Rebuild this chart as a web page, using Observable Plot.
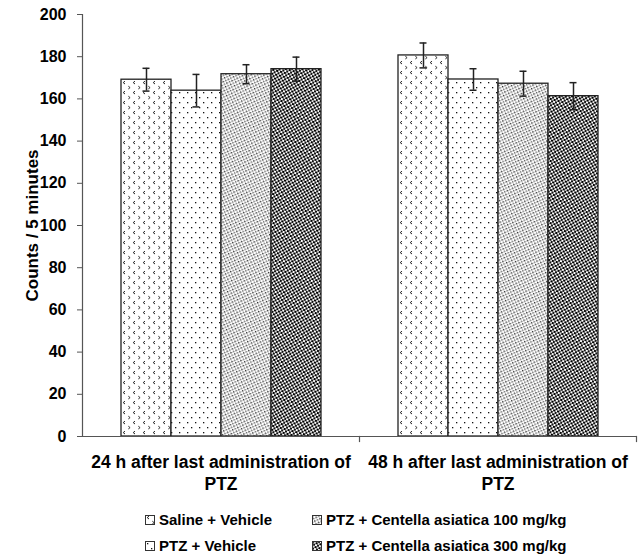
<!DOCTYPE html>
<html>
<head>
<meta charset="utf-8">
<script src="https://cdn.jsdelivr.net/npm/d3@7"></script>
<script src="https://cdn.jsdelivr.net/npm/@observablehq/plot@0.6"></script>
<style>
  html, body { margin: 0; padding: 0; background: #fff; }
  #wrap { position: relative; width: 644px; height: 559px; font-family: "Liberation Sans", Arial, sans-serif; }
  #legend { position: absolute; left: 0; top: 500px; width: 644px; height: 59px; font-weight: bold; font-size: 15px; color: #000; }
  .item { position: absolute; display: flex; align-items: center; white-space: nowrap; line-height: 1; }
  .item svg { margin-right: 4px; }
</style>
</head>
<body>
<div id="wrap"><div id="chart"></div><div id="legend"></div></div>
<script>
// ---- data ----
const groups = ["24 h", "48 h"];
const groupLabels = ["24 h after last administration of\nPTZ", "48 h after last administration of\nPTZ"];
const series = ["Saline + Vehicle", "PTZ + Vehicle", "PTZ + Centella asiatica 100 mg/kg", "PTZ + Centella asiatica 300 mg/kg"];
const means24 = [169.1, 163.9, 171.7, 174.1];
const errs24 = [5.4, 7.7, 4.5, 5.7];
const means48 = [180.6, 169.2, 167.2, 161.3];
const errs48 = [5.9, 5.1, 5.9, 6.4];
const yTicks = [0, 20, 40, 60, 80, 100, 120, 140, 160, 180, 200];
const yTitle = "Counts / 5 minutes";
const patternIds = ["pat0", "pat1", "pat2", "pat3"];

const rows = [];
series.forEach((s, i) => rows.push({group: groups[0], series: s, mean: means24[i], err: errs24[i]}));
series.forEach((s, i) => rows.push({group: groups[1], series: s, mean: means48[i], err: errs48[i]}));

const fontFam = "Liberation Sans, Arial, sans-serif";
const axisGray = "#555";

const chart = Plot.plot({
  width: 644,
  height: 500,
  marginLeft: 81,
  marginRight: 8,
  marginTop: 14,
  marginBottom: 64,
  style: {fontFamily: fontFam, background: "white"},
  fx: {domain: groups, padding: 0, label: null},
  x: {domain: series, paddingInner: 0, paddingOuter: 0.742, axis: null},
  y: {domain: [0, 200], label: null},
  color: {domain: series, range: patternIds.map(id => `url(#${id})`)},
  marks: [
    Plot.barY(rows, {fx: "group", x: "series", y: "mean", fill: "series", stroke: "#222", strokeWidth: 1.3}),
    Plot.ruleX(rows, {fx: "group", x: "series", y1: d => d.mean - d.err, y2: d => d.mean + d.err, stroke: "#222", strokeWidth: 1.5}),
    Plot.tickY(rows, {fx: "group", x: "series", y: d => d.mean + d.err, stroke: "#222", strokeWidth: 1.5, insetLeft: 21.5, insetRight: 21.5}),
    Plot.tickY(rows, {fx: "group", x: "series", y: d => d.mean - d.err, stroke: "#222", strokeWidth: 1.5, insetLeft: 21.5, insetRight: 21.5}),
    Plot.ruleY([0], {stroke: axisGray, strokeWidth: 1.2}),
    Plot.frame({anchor: "left", facetAnchor: "left", stroke: axisGray, strokeWidth: 1.2}),
    Plot.frame({anchor: "right", stroke: axisGray, strokeWidth: 1.2, insetTop: 422, insetBottom: -5}),
    Plot.axisY({ticks: yTicks, tickSize: 5, tickPadding: 11, fontSize: 16, fontWeight: "bold", stroke: axisGray, fill: "black", label: null}),
    Plot.axisFx({anchor: "bottom", tickSize: 0, tickPadding: 16, fontSize: 17.5, fontWeight: "bold", lineHeight: 1.25, fill: "black",
      tickFormat: g => groupLabels[groups.indexOf(g)], label: null}),
    Plot.text([yTitle], {text: d => d, frameAnchor: "left", facetAnchor: "left", rotate: -90, textAnchor: "middle", dx: -50, fontSize: 17, fontWeight: "bold", fill: "black"})
  ]
});

// pattern definitions
const svg = d3.select(chart);
const defs = svg.insert("defs", ":first-child");
// p0: chevrons
const p0 = defs.append("pattern").attr("id", "pat0").attr("patternUnits", "userSpaceOnUse").attr("width", 10).attr("height", 10);
p0.append("rect").attr("width", 10).attr("height", 10).attr("fill", "white");
p0.append("path").attr("d", "M4,1.2 L2.2,2.6 L4,4").attr("fill", "none").attr("stroke", "#222").attr("stroke-width", 1);
p0.append("path").attr("d", "M7.3,6.2 L9.1,7.6 L7.3,9").attr("fill", "none").attr("stroke", "#333").attr("stroke-width", 1);
// p1: sparse dots
const p1 = defs.append("pattern").attr("id", "pat1").attr("patternUnits", "userSpaceOnUse").attr("width", 8).attr("height", 10);
p1.append("rect").attr("width", 8).attr("height", 10).attr("fill", "white");
p1.append("rect").attr("x", 2).attr("y", 2).attr("width", 1.3).attr("height", 1.3).attr("fill", "#111");
p1.append("rect").attr("x", 6).attr("y", 7).attr("width", 1.3).attr("height", 1.3).attr("fill", "#111");
// p2: dense gray dots
const p2 = defs.append("pattern").attr("id", "pat2").attr("patternUnits", "userSpaceOnUse").attr("width", 4).attr("height", 4).attr("patternTransform", "rotate(20)");
p2.append("rect").attr("width", 4).attr("height", 4).attr("fill", "white");
p2.append("rect").attr("x", 0).attr("y", 0).attr("width", 1.5).attr("height", 1.5).attr("fill", "#333");
p2.append("rect").attr("x", 2).attr("y", 2).attr("width", 1.5).attr("height", 1.5).attr("fill", "#666");
// p3: dense black checker
const p3 = defs.append("pattern").attr("id", "pat3").attr("patternUnits", "userSpaceOnUse").attr("width", 4).attr("height", 4).attr("patternTransform", "rotate(15)");
p3.append("rect").attr("width", 4).attr("height", 4).attr("fill", "white");
p3.append("rect").attr("x", 0).attr("y", 0).attr("width", 2.3).attr("height", 2).attr("fill", "#000");
p3.append("rect").attr("x", 2).attr("y", 2).attr("width", 2.3).attr("height", 2).attr("fill", "#111");

document.getElementById("chart").appendChild(chart);

// legend
const legendPos = [
  {i: 0, left: 145, top: 12},
  {i: 1, left: 145, top: 38},
  {i: 2, left: 312, top: 12},
  {i: 3, left: 312, top: 38}
];
const legend = d3.select("#legend");
legendPos.forEach(p => {
  const it = legend.append("div").attr("class", "item").style("left", p.left + "px").style("top", p.top + "px");
  const sw = it.append("svg").attr("width", 10).attr("height", 10);
  sw.append("rect").attr("x", 0.5).attr("y", 0.5).attr("width", 9).attr("height", 9)
    .attr("fill", `url(#${patternIds[p.i]})`).attr("stroke", "#333").attr("stroke-width", 1);
  it.append("span").text(series[p.i]);
});
</script>
</body>
</html>
